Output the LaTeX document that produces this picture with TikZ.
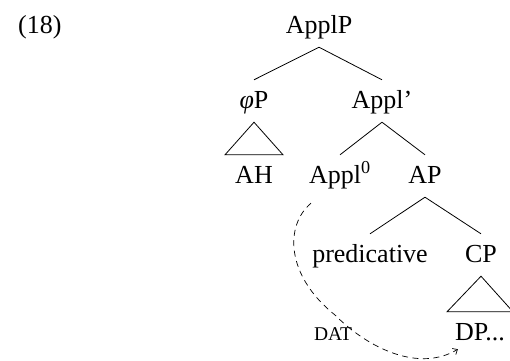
\documentclass[tikz,border=0pt]{standalone}
\usepackage{fontspec}
\setmainfont{Liberation Serif}
\usetikzlibrary{calc,arrows.meta}
\begin{document}
\begin{tikzpicture}[x=1pt,y=-1pt,
  lab/.style={anchor=base,font=\fontsize{26}{30}\selectfont,text height=23pt,text depth=9pt,inner xsep=0pt,inner ysep=5pt},
  branch/.style={line width=0.8pt},
  move/.style={dash pattern=on 6pt off 4.5pt, line width=0.7pt, -{Straight Barb[length=4pt,width=7pt]}}]
\path[use as bounding box] (0,0) rectangle (510,360);
\node[lab,anchor=base west] (ex) at (18,33) {(18)};
\node[lab] (ApplP) at (319,33) {ApplP};
\node[lab] (phiP) at (254,108) {\textit{φ}P};
\node[lab] (Applbar) at (382,108) {Appl’};
\node[lab] (AH) at (254,183) {AH};
\node[lab] (Appl0) at (340,183) {Appl\textsuperscript{0}};
\node[lab] (AP) at (425,183) {AP};
\node[lab] (pred) at (370,262) {predicative};
\node[lab] (CP) at (481,262) {CP};
\node[lab] (DP) at (480,340) {DP...};
\node[anchor=base,font=\fontsize{19.5}{22}\selectfont,inner sep=0pt] (dat) at (333,340) {DAT};
\draw[branch] (ApplP.south) -- (phiP.north);
\draw[branch] (ApplP.south) -- (Applbar.north);
\draw[branch] (phiP.south) -- ($(AH.north)+(29,0)$) -- ($(AH.north)+(-29,0)$) -- cycle;
\draw[branch] (Applbar.south) -- (Appl0.north);
\draw[branch] (Applbar.south) -- (AP.north);
\draw[branch] (AP.south) -- (pred.north);
\draw[branch] (AP.south) -- (CP.north);
\draw[branch] (CP.south) -- ($(DP.north)+(33,0)$) -- ($(DP.north)+(-33,0)$) -- cycle;
\draw[move] ($(Appl0.south west)+(2,6)$) .. controls (285,225) and (285,275) .. (335,315)
  .. controls (370,350) and (420,372) .. ($(DP.south west)+(3,-5)$);
\end{tikzpicture}
\end{document}
